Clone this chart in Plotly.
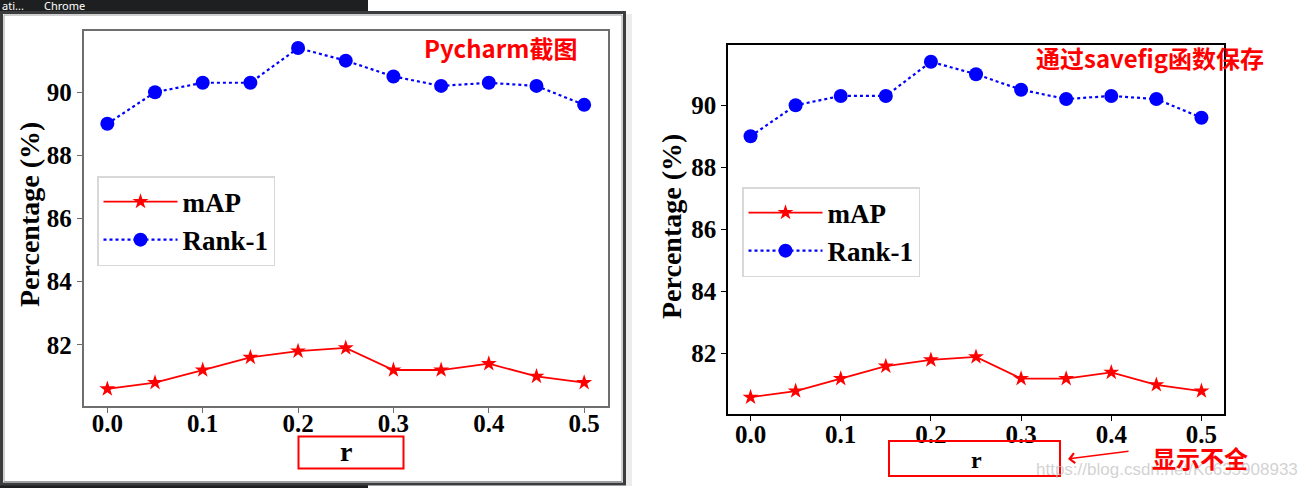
import plotly.graph_objects as go

# ---- data ----
r_values = [0.0, 0.05, 0.1, 0.15, 0.2, 0.25, 0.3, 0.35, 0.4, 0.45, 0.5]
map_values = [80.6, 80.8, 81.2, 81.6, 81.8, 81.9, 81.2, 81.2, 81.4, 81.0, 80.8]
rank1_values = [89.0, 90.0, 90.3, 90.3, 91.4, 91.0, 90.5, 90.2, 90.3, 90.2, 89.6]
x_ticks = [0.0, 0.1, 0.2, 0.3, 0.4, 0.5]
y_ticks = [82, 84, 86, 88, 90]

W, H = 1310, 488


def px(x):
    return x / W


def py(y):
    return 1 - y / H


SERIF = "Liberation Serif"
CJK = "Noto Sans CJK SC"

fig = go.Figure()

panels = [
    dict(xa="x", ya="y", legend="legend"),
    dict(xa="x2", ya="y2", legend="legend2"),
]
for p in panels:
    fig.add_trace(go.Scatter(
        x=r_values, y=map_values, name="mAP", mode="lines+markers",
        line=dict(color="#ff0000", width=1.8),
        marker=dict(symbol="star", size=12, color="#ff0000"),
        xaxis=p["xa"], yaxis=p["ya"], legend=p["legend"]))
    fig.add_trace(go.Scatter(
        x=r_values, y=rank1_values, name="Rank-1", mode="lines+markers",
        line=dict(color="#0000ff", width=2.2, dash="dot"),
        marker=dict(symbol="circle", size=14, color="#0000ff"),
        xaxis=p["xa"], yaxis=p["ya"], legend=p["legend"]))

tickfont = dict(family=SERIF, size=25, color="black", weight="bold")


def xaxis_cfg(domain, col, anchor, standoff):
    return dict(domain=domain, range=[-0.025, 0.525], tickvals=x_ticks,
                tickformat=".1f", showgrid=False, zeroline=False, anchor=anchor,
                showline=True, linecolor=col, linewidth=1.6, mirror=True,
                ticks="outside", ticklen=5, tickcolor=col, tickwidth=1.2,
                ticklabelstandoff=standoff,
                tickfont=tickfont, fixedrange=True)


def yaxis_cfg(domain, col, anchor):
    return dict(domain=domain, range=[80.06, 91.94], tickvals=y_ticks,
                showgrid=False, zeroline=False, anchor=anchor,
                showline=True, linecolor=col, linewidth=1.6, mirror=True,
                ticks="outside", ticklen=5, tickcolor=col, tickwidth=1.2,
                tickfont=tickfont, fixedrange=True)


legend_common = dict(
    font=dict(family=SERIF, size=27, color="black", weight="bold"),
    bgcolor="white", bordercolor="#d8d8d8", borderwidth=1.5,
    xanchor="left", yanchor="top", itemwidth=74, tracegroupgap=0,
)

fig.update_layout(
    width=W, height=H, margin=dict(l=0, r=0, t=0, b=0),
    paper_bgcolor="white", plot_bgcolor="white", showlegend=True,
    xaxis=xaxis_cfg([px(83.5), px(608)], "#6e6e6e", "y", -11),
    yaxis=yaxis_cfg([py(406), py(31)], "#6e6e6e", "x"),
    xaxis2=xaxis_cfg([px(728), px(1224)], "black", "y2", -8),
    yaxis2=yaxis_cfg([py(414), py(45)], "black", "x2"),
    legend=dict(legend_common, x=px(97), y=py(176)),
    legend2=dict(legend_common, x=px(742), y=py(187)),
)

shapes = []
# dark taskbar strips of the screenshot
shapes.append(dict(type="rect", xref="paper", yref="paper", x0=px(0), x1=px(368),
                   y0=py(12), y1=py(0), fillcolor="#1e1f20", line=dict(width=0), layer="below"))
shapes.append(dict(type="rect", xref="paper", yref="paper", x0=px(0), x1=px(368),
                   y0=py(488), y1=py(484), fillcolor="#1e1f20", line=dict(width=0), layer="below"))
# window shadow
shapes.append(dict(type="rect", xref="paper", yref="paper", x0=px(626), x1=px(632),
                   y0=py(486), y1=py(14), fillcolor="#ececec", line=dict(width=0), layer="below"))
# window frame
shapes.append(dict(type="rect", xref="paper", yref="paper", x0=px(1.5), x1=px(624.5),
                   y0=py(484), y1=py(12.5), line=dict(color="#3a3c3e", width=3), layer="below"))
shapes.append(dict(type="rect", xref="paper", yref="paper", x0=px(4), x1=px(622),
                   y0=py(481.5), y1=py(15), line=dict(color="#a0a0a0", width=1), layer="below"))
# red highlight boxes
shapes.append(dict(type="rect", xref="paper", yref="paper", x0=px(298.5), x1=px(403.5),
                   y0=py(468.5), y1=py(436.5), line=dict(color="#ff0000", width=2)))
shapes.append(dict(type="rect", xref="paper", yref="paper", x0=px(889), x1=px(1060),
                   y0=py(476), y1=py(441), line=dict(color="#ff0000", width=2)))
fig.update_layout(shapes=shapes)

ann = []
ann.append(dict(text="ati...", x=px(0), y=py(6), xref="paper", yref="paper",
                xanchor="left", yanchor="middle", showarrow=False,
                font=dict(family="Noto Sans", size=11, color="white")))
ann.append(dict(text="Chrome", x=px(42), y=py(6), xref="paper", yref="paper",
                xanchor="left", yanchor="middle", showarrow=False,
                font=dict(family="Noto Sans", size=11, color="white")))
# y-axis titles
ann.append(dict(text="Percentage (%)", x=px(29), y=py(215), xref="paper", yref="paper",
                textangle=-90, showarrow=False, xanchor="center", yanchor="middle",
                font=dict(family=SERIF, size=28, color="black", weight="bold")))
ann.append(dict(text="Percentage (%)", x=px(671), y=py(227), xref="paper", yref="paper",
                textangle=-90, showarrow=False, xanchor="center", yanchor="middle",
                font=dict(family=SERIF, size=28, color="black", weight="bold")))
# x-axis titles
ann.append(dict(text="r", x=px(346), y=py(451), xref="paper", yref="paper",
                showarrow=False, xanchor="center", yanchor="middle",
                font=dict(family=SERIF, size=28, color="black", weight="bold")))
ann.append(dict(text="r", x=px(976), y=py(460), xref="paper", yref="paper",
                showarrow=False, xanchor="center", yanchor="middle",
                font=dict(family=SERIF, size=24, color="black", weight="bold")))
# red notes
ann.append(dict(text="Pycharm截图", x=px(500), y=py(47), xref="paper", yref="paper",
                showarrow=False, xanchor="center", yanchor="middle",
                font=dict(family=CJK, size=24, color="#ff0000", weight="bold")))
ann.append(dict(text="通过savefig函数保存", x=px(1150), y=py(58), xref="paper", yref="paper",
                showarrow=False, xanchor="center", yanchor="middle",
                font=dict(family=CJK, size=24, color="#ff0000", weight="bold")))
ann.append(dict(text="https://blog.csdn.net/Kc635908933", x=px(1300), y=py(469), xref="paper", yref="paper",
                showarrow=False, xanchor="right", yanchor="middle",
                font=dict(family="Liberation Sans", size=17, color="rgba(190,190,190,0.7)")))
ann.append(dict(text="显示不全", x=px(1200), y=py(457), xref="paper", yref="paper",
                showarrow=False, xanchor="center", yanchor="middle",
                font=dict(family=CJK, size=24, color="#ff0000", weight="bold")))
# arrow
ann.append(dict(text="", x=px(1068), y=py(459), xref="paper", yref="paper",
                ax=62, ay=-8, showarrow=True, arrowhead=4, arrowsize=1.3,
                arrowwidth=1.5, arrowcolor="#ff0000"))
fig.update_layout(annotations=ann)

fig.write_html("out.html", config={"displayModeBar": False},
               post_script="document.body.style.margin='0px';document.body.style.overflow='hidden';")
